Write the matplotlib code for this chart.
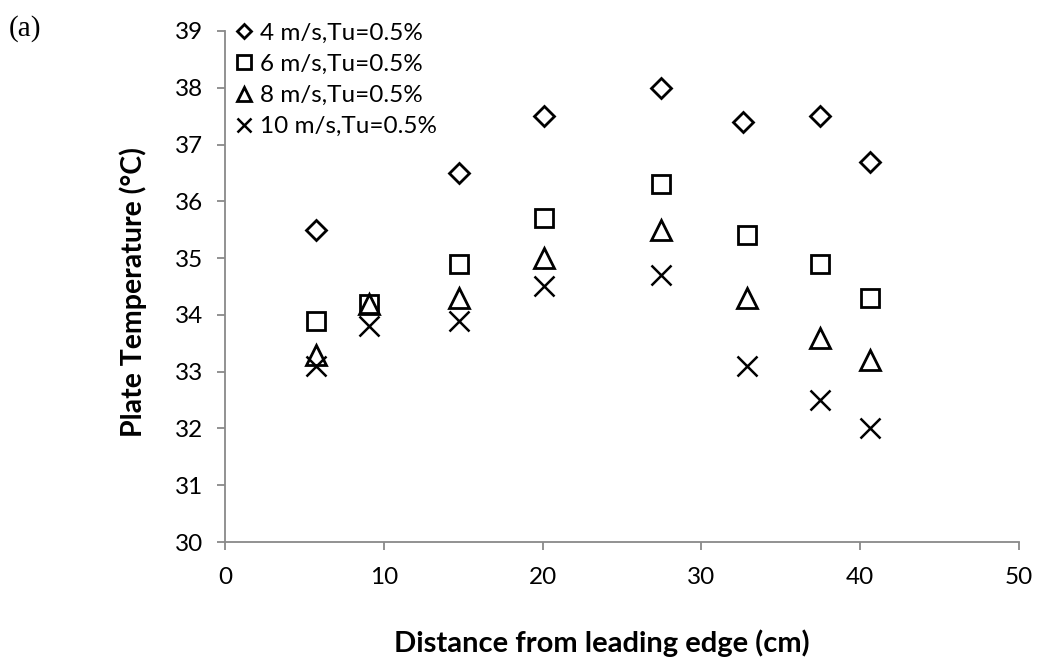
import matplotlib
matplotlib.use("Agg")
import matplotlib.pyplot as plt

# datos (distancia en cm, temperatura en °C)
x_4 = [5.7, 14.75, 20.1, 27.45, 32.65, 37.45, 40.6]
t_4 = [35.5, 36.5, 37.5, 38.0, 37.4, 37.5, 36.7]

x_otros = [5.7, 9.05, 14.75, 20.1, 27.45, 32.85, 37.45, 40.6]
t_6 = [33.9, 34.2, 34.9, 35.7, 36.3, 35.4, 34.9, 34.3]
t_8 = [33.3, 34.2, 34.3, 35.0, 35.5, 34.3, 33.6, 33.2]
t_10 = [33.1, 33.8, 33.9, 34.5, 34.7, 33.1, 32.5, 32.0]

etiquetas = ["4 m/s,Tu=0.5%", "6 m/s,Tu=0.5%", "8 m/s,Tu=0.5%", "10 m/s,Tu=0.5%"]
x_ticks = [0, 10, 20, 30, 40, 50]
y_ticks = [30, 31, 32, 33, 34, 35, 36, 37, 38, 39]

plt.rcParams['font.family'] = ['Lato', 'DejaVu Sans']

fig = plt.figure(figsize=(10.39, 6.69), dpi=100)
ax = fig.add_axes([0.2166, 0.1898, 0.7641, 0.7639])

# cada serie con su marcador hueco, como en Excel
ax.plot(x_4, t_4, linestyle='none', marker='D', markersize=9.8, markerfacecolor='none',
        markeredgecolor='black', markeredgewidth=2.0, label=etiquetas[0])
ax.plot(x_otros, t_6, linestyle='none', marker='s', markersize=13.5, markerfacecolor='none',
        markeredgecolor='black', markeredgewidth=2.0, label=etiquetas[1])
ax.plot(x_otros, t_8, linestyle='none', marker='^', markersize=14, markerfacecolor='none',
        markeredgecolor='black', markeredgewidth=2.0, label=etiquetas[2])
ax.plot(x_otros, t_10, linestyle='none', marker='x', markersize=14, markerfacecolor='none',
        markeredgecolor='black', markeredgewidth=1.8, label=etiquetas[3])

ax.set_xlim(0, 50)
ax.set_ylim(30, 39)
ax.set_xticks(x_ticks)
ax.set_yticks(y_ticks)

gris = '#898989'
for lado in ['top', 'right']:
    ax.spines[lado].set_visible(False)
for lado in ['left', 'bottom']:
    ax.spines[lado].set_color(gris)
    ax.spines[lado].set_linewidth(1.3)
ax.tick_params(axis='both', colors=gris, labelcolor='black', length=6, width=1.3,
               labelsize=17.5)
ax.tick_params(axis='y', pad=10)
ax.tick_params(axis='x', pad=12)

ax.set_xlabel('Distance from leading edge (cm)', fontsize=21, fontweight='bold', labelpad=30)
ax.set_ylabel('Plate Temperature (°C)', fontsize=20.5, fontweight='bold', labelpad=20)
ax.xaxis.label.set_x(0.475)
ax.yaxis.label.set_y(0.49)

leg = ax.legend(loc='upper left', bbox_to_anchor=(-0.008, 1.045), frameon=False, fontsize=17.5,
                handlelength=0.9, handletextpad=0.2, labelspacing=0.42, borderaxespad=0.2,
                markerscale=0.75)

fig.text(0.008, 0.978, '(a)', fontsize=21, family='Liberation Serif', va='top', ha='left')

fig.savefig('out.png', dpi=100)
